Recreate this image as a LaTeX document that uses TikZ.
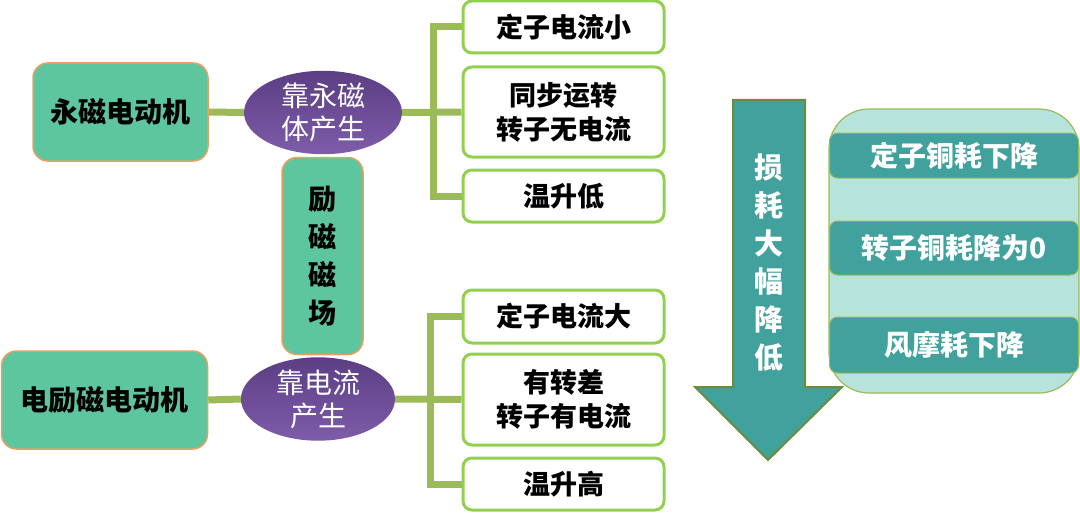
\documentclass[tikz,border=0pt]{standalone}
\usepackage{fontspec}
\setmainfont{Noto Sans CJK SC}
\usetikzlibrary{shapes.geometric,backgrounds}
\definecolor{mgreen}{HTML}{5EC69E}
\definecolor{morange}{HTML}{E8A060}
\definecolor{trunk}{HTML}{9BBB59}
\definecolor{bgreen}{HTML}{92D050}
\definecolor{pTop}{HTML}{5B3E84}
\definecolor{pBot}{HTML}{7E5CA9}
\definecolor{teal}{HTML}{41A19D}
\definecolor{olive}{HTML}{6E8B3D}
\definecolor{lteal}{HTML}{B6E4DD}
\tikzset{
  motor/.style={draw=morange,line width=1.5pt,fill=mgreen,rounded corners=15pt,inner sep=0pt,
    font=\fontsize{28}{32}\selectfont\bfseries,align=center},
  oval/.style={ellipse,top color=pTop,bottom color=pBot,draw=none,inner sep=0pt,text=white,
    font=\fontsize{28}{33}\selectfont,align=center},
  leaf/.style={draw=bgreen,line width=3pt,fill=white,rounded corners=9pt,inner sep=0pt,
    minimum width=201pt,font=\fontsize{27}{34}\selectfont\bfseries,align=center},
  conn/.style={draw=trunk,line width=7pt},
  bar/.style={draw=trunk,line width=1pt,fill=teal,rounded corners=8pt,inner sep=0pt,
    minimum width=249pt,text=white,font=\fontsize{28}{30}\selectfont\bfseries}
}
\begin{document}
\begin{tikzpicture}[x=1pt,y=-1pt]
\useasboundingbox (0,0) rectangle (1080,519);
% left motors
\node[motor,minimum width=175pt,minimum height=98pt] (m1) at (120.5,112) {永磁电动机};
\node[motor,minimum width=206pt,minimum height=98pt] (m2) at (104.5,400) {电励磁电动机};
\node[motor,minimum width=81pt,minimum height=197pt,font=\fontsize{28}{38}\selectfont\bfseries] (ex) at (322.5,256) {励\\磁\\磁\\场};
% ellipses
\node[oval,minimum width=158pt,minimum height=79pt] (e1) at (323,112.5) {靠永磁\\体产生};
\node[oval,minimum width=154pt,minimum height=78pt] (e2) at (318,399) {靠电流\\产生};
% leaves
\node[leaf,minimum height=52pt] (a1) at (563.5,27) {定子电流小};
\node[leaf,minimum height=90pt] (a2) at (563.5,112) {同步运转\\转子无电流};
\node[leaf,minimum height=52pt] (a3) at (563.5,196) {温升低};
\node[leaf,minimum height=53pt] (b1) at (563.5,316.5) {定子电流大};
\node[leaf,minimum height=91pt] (b2) at (563.5,399.5) {有转差\\转子有电流};
\node[leaf,minimum height=52pt] (b3) at (563.5,484) {温升高};
\coordinate (j1) at (433,112.5);
\coordinate (j2) at (430,399.5);
% connectors
\begin{scope}[on background layer]
\draw[conn] (m1.east) -- (e1.west);
\draw[conn] (m2.east) -- (e2.west);
\draw[conn] (e1.east) -- (a2.west);
\draw[conn] (e2.east) -- (b2.west);
\draw[conn] (a1.west) -| (j1) |- (a3.west);
\draw[conn] (b1.west) -| (j2) |- (b3.west);
\end{scope}
% arrow
\draw[draw=olive,line width=2pt,fill=teal,line join=miter]
  (733,100) -- (805,100) -- (805,387) -- (842,387) -- (768,460) -- (695,387) -- (733,387) -- cycle;
\node[text=white,align=center,font=\fontsize{29}{38}\selectfont\bfseries] (arr) at (769,263)
  {损\\耗\\大\\幅\\降\\低};
% panel
\draw[draw=trunk,line width=1.2pt,fill=lteal,rounded corners=40pt] (829,109) rectangle (1079,393);
\node[bar,minimum height=45pt] (c1) at (954,155.5) {定子铜耗下降};
\node[bar,minimum height=54pt] (c2) at (954,248) {转子铜耗降为0};
\node[bar,minimum height=56pt] (c3) at (954,345) {风摩耗下降};
\end{tikzpicture}
\end{document}
